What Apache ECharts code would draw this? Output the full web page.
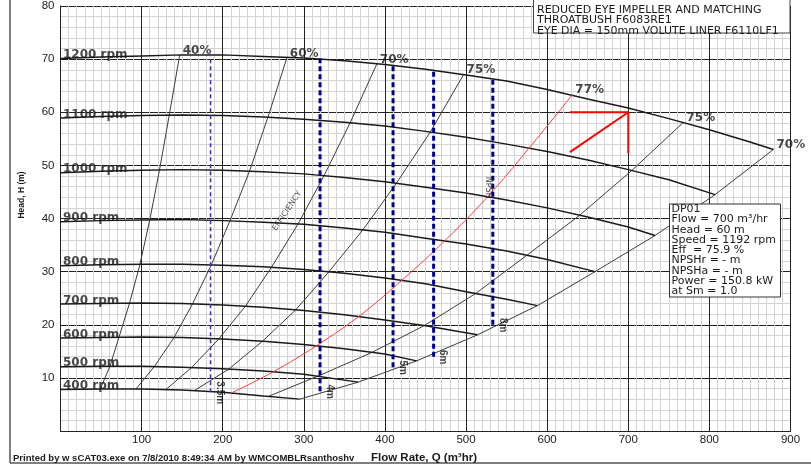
<!DOCTYPE html>
<html>
<head>
<meta charset="utf-8">
<script src="https://cdn.jsdelivr.net/npm/echarts@6/dist/echarts.min.js"></script>
<style>
  html, body { margin: 0; padding: 0; background: #fff; }
  #chart { width: 811px; height: 465px; }
</style>
</head>
<body>
<div id="chart"></div>
<script>
// Axis ranges: [min, max, major step]
const flowRange = [0, 900, 100];
const headRange = [0, 80, 10];

// Head-flow curves, [flow m3/hr, head m], one per pump speed
const speedLabels = ['400 rpm', '500 rpm', '600 rpm', '700 rpm', '800 rpm', '900 rpm', '1000 rpm', '1100 rpm', '1200 rpm'];
const speed400 = [[0,7.8],[50,7.9],[100,7.9],[150,7.7],[200,7.3],[250,6.6],[295,6.0]];
const speed500 = [[0,12.1],[50,12.2],[100,12.2],[150,12.0],[200,11.7],[250,11.3],[300,10.7],[367,9.2]];
const speed600 = [[0,17.5],[50,17.6],[100,17.7],[150,17.6],[200,17.3],[250,16.9],[300,16.3],[350,15.5],[400,14.5],[439,13.2]];
const speed700 = [[0,23.9],[50,24.0],[100,24.1],[150,24.0],[200,23.7],[250,23.3],[300,22.7],[350,21.9],[400,20.9],[450,19.8],[514,18.1]];
const speed800 = [[0,31.1],[50,31.3],[100,31.4],[150,31.4],[200,31.2],[250,30.9],[300,30.4],[350,29.7],[400,28.8],[450,27.7],[500,26.2],[550,24.8],[588,23.6]];
const speed900 = [[0,39.4],[50,39.6],[100,39.7],[150,39.8],[200,39.6],[250,39.3],[300,38.9],[350,38.2],[400,37.4],[450,36.3],[500,35.2],[550,33.9],[600,32.3],[659,30.0]];
const speed1000 = [[0,48.6],[50,48.9],[100,49.1],[150,49.2],[200,49.1],[250,48.8],[300,48.4],[350,47.7],[400,46.9],[450,45.9],[500,44.8],[550,43.5],[600,42.0],[650,40.3],[700,38.4],[733,36.8]];
const speed1100 = [[0,58.9],[50,59.2],[100,59.4],[150,59.5],[200,59.4],[250,59.1],[300,58.7],[350,58.1],[400,57.4],[450,56.4],[500,55.3],[550,54.0],[600,52.6],[650,51.0],[700,49.2],[750,47.3],[807,44.5]];
const speed1200 = [[0,70.1],[50,70.4],[100,70.6],[150,70.8],[200,70.8],[250,70.5],[300,70.2],[350,69.7],[400,69.0],[450,68.1],[500,67.0],[550,65.9],[600,64.3],[650,62.5],[700,60.8],[750,58.8],[800,56.7],[850,54.4],[879,53.0]];

// Iso-efficiency lines, crossing points from 400 rpm up to 1200 rpm
const effLabels = ['40%', '60%', '70%', '75%', '77%', '75%', '70%'];
const eff40 = [[49,7.9],[61,12.2],[72,17.6],[85,24.0],[98,31.4],[110,39.7],[122,49.1],[134,59.4],[147,70.8]];
const eff60 = [[93,7.9],[116,12.2],[140,17.6],[163,24.0],[186,31.3],[209,39.6],[233,48.9],[256,59.2],[279,70.2]];
const eff70 = [[130,7.8],[162,12.0],[195,17.3],[228,23.5],[260,30.8],[293,39.0],[325,48.1],[357,58.0],[390,69.1]];
const eff75 = [[166,7.7],[207,11.6],[249,16.9],[290,22.8],[331,30.0],[373,37.9],[414,46.6],[456,56.3],[497,67.1]];
const eff77 = [[210,7.1],[263,11.2],[316,16.1],[368,21.6],[421,28.4],[473,35.7],[526,44.0],[578,53.3],[631,63.3]];
const eff75r = [[256,6.5],[320,10.5],[384,14.8],[448,19.8],[512,25.9],[576,33.2],[640,40.6],[704,49.0],[768,58.1]];
const eff70r = [[295,6.0],[367,9.2],[439,13.2],[514,18.1],[588,23.6],[659,30.0],[733,36.8],[807,44.5],[879,53.0]];

// NPSH required lines
const npshLabels = ['3.5m', '4m', '5m', '6m', '8m'];
const npshFlow = [185, 320, 410, 460, 533];
const npshTop = [70.8, 70.1, 68.8, 67.9, 66.6];
const npshBottom = [7.3, 7.5, 12.0, 14.0, 20.0];

// Duty point DP01 and its marker arms
const dutyPoint = [700, 60];
const dutyArmFlow = [628, 628];
const dutyArmHead = [60, 52.5];
const dutyDropHead = [52.3];

const dutyText = ['DP01', 'Flow = 700 m³/hr', 'Head = 60 m', 'Speed = 1192 rpm', 'Eff  = 75.9 %',
                  'NPSHr = - m', 'NPSHa = - m', 'Power = 150.8 kW', 'at Sm = 1.0'];
const titleText = ['REDUCED EYE IMPELLER AND MATCHING', 'THROATBUSH F6083RE1', 'EYE DIA = 150mm VOLUTE LINER F6110LF1'];
const footerText = 'Printed by w sCAT03.exe on 7/8/2010 8:49:34 AM by WMCOMBLRsanthoshv';

const speedCurves = [speed400, speed500, speed600, speed700, speed800, speed900, speed1000, speed1100, speed1200];
const effLines = [eff40, eff60, eff70, eff75, eff77, eff75r, eff70r];

const chart = echarts.init(document.getElementById('chart'), null, { renderer: 'canvas' });

const series = [];

speedCurves.forEach(function (pts) {
  series.push({
    type: 'line', data: pts, symbol: 'none', smooth: false,
    silent: true, z: 4, lineStyle: { color: '#1a1a1a', width: 1.5 }
  });
});

effLines.forEach(function (pts, i) {
  const red = i === 4;
  series.push({
    type: 'line', data: pts, symbol: 'none', smooth: red ? 0.4 : false,
    silent: true, z: red ? 5 : 3,
    lineStyle: { color: red ? '#ff3b3b' : '#3c3c3c', width: 1 }
  });
});

npshFlow.forEach(function (q, i) {
  const thin = i === 0;
  series.push({
    type: 'line', data: [[q, npshBottom[i]], [q, npshTop[i]]], symbol: 'none', silent: true, z: 6,
    lineStyle: thin ? { color: '#3838b0', width: 1.6, type: [4, 3] }
                    : { color: '#00008c', width: 3, type: [5, 3] }
  });
});

// Duty point marker
series.push({
  type: 'line', symbol: 'none', silent: true, z: 7,
  data: [[dutyArmFlow[0], dutyArmHead[0]], dutyPoint, [dutyPoint[0], dutyDropHead[0]]],
  lineStyle: { color: '#ff0000', width: 2 }
});
series.push({
  type: 'line', symbol: 'none', silent: true, z: 7,
  data: [dutyPoint, [dutyArmFlow[1], dutyArmHead[1]]],
  lineStyle: { color: '#ff0000', width: 2 }
});

const hiddenDot = { color: 'rgba(0,0,0,0)' };

// Speed labels at the shut-off end of each curve
series.push({
  type: 'scatter', symbolSize: 1, itemStyle: hiddenDot, silent: true, z: 8,
  data: speedCurves.map(function (pts, i) { return { name: speedLabels[i], value: pts[0] }; }),
  label: {
    show: true, formatter: function (p) { return p.name; }, position: [3, 3],
    align: 'left', verticalAlign: 'bottom',
    fontFamily: 'DejaVu Sans', fontWeight: 'bold', fontSize: 12, color: '#1a1a1a'
  }
});

// Efficiency labels at the top end of each line
series.push({
  type: 'scatter', symbolSize: 1, itemStyle: hiddenDot, silent: true, z: 8,
  data: effLines.map(function (pts, i) { return { name: effLabels[i], value: pts[pts.length - 1] }; }),
  label: {
    show: true, formatter: function (p) { return p.name; }, position: [3.5, 2],
    align: 'left', verticalAlign: 'bottom',
    fontFamily: 'DejaVu Sans', fontWeight: 'bold', fontSize: 12, color: '#1a1a1a'
  }
});

// NPSH values beside the foot of each dashed line
series.push({
  type: 'scatter', symbolSize: 1, itemStyle: hiddenDot, silent: true, z: 8,
  data: npshFlow.map(function (q, i) { return { name: npshLabels[i], value: [q, npshBottom[i]] }; }),
  label: {
    show: true, formatter: function (p) { return p.name; }, position: [10, 1], rotate: -90,
    align: 'center', verticalAlign: 'middle',
    fontFamily: 'Liberation Sans', fontWeight: 'bold', fontSize: 10, color: '#111'
  }
});

// Captions written along the curves
series.push({
  type: 'scatter', symbolSize: 1, itemStyle: hiddenDot, silent: true, z: 8,
  data: [{ name: 'EFFICIENCY', value: [280, 41.3] }],
  label: {
    show: true, formatter: function (p) { return p.name; }, position: [0, 0], rotate: 56,
    align: 'center', verticalAlign: 'middle',
    fontFamily: 'DejaVu Sans', fontSize: 8, color: '#222'
  }
});
series.push({
  type: 'scatter', symbolSize: 1, itemStyle: hiddenDot, silent: true, z: 8,
  data: [{ name: 'NPSH', value: [npshFlow[4], 45.7] }],
  label: {
    show: true, formatter: function (p) { return p.name; }, position: [-4, 0], rotate: -90,
    align: 'center', verticalAlign: 'middle',
    fontFamily: 'DejaVu Sans', fontSize: 8, color: '#111'
  }
});

const grid = { left: 60.5, top: 4, width: 730, height: 427 };

const option = {
  animation: false,
  backgroundColor: '#ffffff',
  grid: grid,
  xAxis: {
    type: 'value', min: flowRange[0], max: flowRange[1], interval: flowRange[2],
    axisLine: { show: true, lineStyle: { color: '#222', width: 1 } },
    axisTick: { show: false },
    minorTick: { show: false, splitNumber: 10 },
    splitLine: { show: true, lineStyle: { color: '#222', width: 1 } },
    minorSplitLine: { show: true, lineStyle: { color: '#d3d3d3', width: 1 } },
    axisLabel: { showMinLabel: false, margin: 3, fontFamily: 'Liberation Sans', fontSize: 11.5, color: '#222' }
  },
  yAxis: {
    type: 'value', min: headRange[0], max: headRange[1], interval: headRange[2],
    axisLine: { show: true, lineStyle: { color: '#222', width: 1 } },
    axisTick: { show: false },
    minorTick: { show: false, splitNumber: 5 },
    splitLine: { show: true, lineStyle: { color: '#222', width: 1 } },
    minorSplitLine: { show: true, lineStyle: { color: '#d3d3d3', width: 1 } },
    axisLabel: { showMinLabel: false, margin: 6, fontFamily: 'Liberation Sans', fontSize: 11.5, color: '#222' }
  },
  series: series,
  graphic: [
    // page frame
    { type: 'line', shape: { x1: 10, y1: 0, x2: 10, y2: 463 }, style: { stroke: '#555', lineWidth: 1.5 }, z: 10 },
    { type: 'line', shape: { x1: 10, y1: 463, x2: 811, y2: 463 }, style: { stroke: '#555', lineWidth: 1.5 }, z: 10 },
    // title block
    { type: 'rect', shape: { x: 533.5, y: -2, width: 256.5, height: 35 }, style: { fill: '#fff', stroke: '#444', lineWidth: 1 }, z: 20 },
    { type: 'text', x: 537, y: 4.9, z: 21, style: { text: titleText.join('\n'), lineHeight: 10.3, fontFamily: 'DejaVu Sans', fontSize: 11, fill: '#1a1a1a', verticalAlign: 'top' } },
    // duty point box
    { type: 'rect', shape: { x: 669.5, y: 204, width: 111, height: 93 }, style: { fill: '#fff', stroke: '#333', lineWidth: 1 }, z: 20 },
    { type: 'text', x: 671.5, y: 204.2, z: 21, style: { text: dutyText.join('\n'), lineHeight: 10.25, fontFamily: 'DejaVu Sans', fontSize: 11, fill: '#1a1a1a', verticalAlign: 'top' } },
    // axis titles
    { type: 'text', x: 22, y: 195, rotation: Math.PI / 2, z: 21, style: { text: 'Head, H (m)', fontFamily: 'Liberation Sans', fontWeight: 'bold', fontSize: 8.5, fill: '#1a1a1a', align: 'center', verticalAlign: 'middle' } },
    { type: 'text', x: 424, y: 458, z: 21, style: { text: 'Flow Rate, Q (m³hr)', fontFamily: 'Liberation Sans', fontWeight: 'bold', fontSize: 11.5, fill: '#1a1a1a', align: 'center', verticalAlign: 'middle' } },
    // footer
    { type: 'text', x: 13, y: 458, z: 21, style: { text: footerText, fontFamily: 'Liberation Sans', fontWeight: 'bold', fontSize: 9.5, fill: '#1a1a1a', verticalAlign: 'middle' } }
  ]
};

chart.setOption(option);
</script>
</body>
</html>
